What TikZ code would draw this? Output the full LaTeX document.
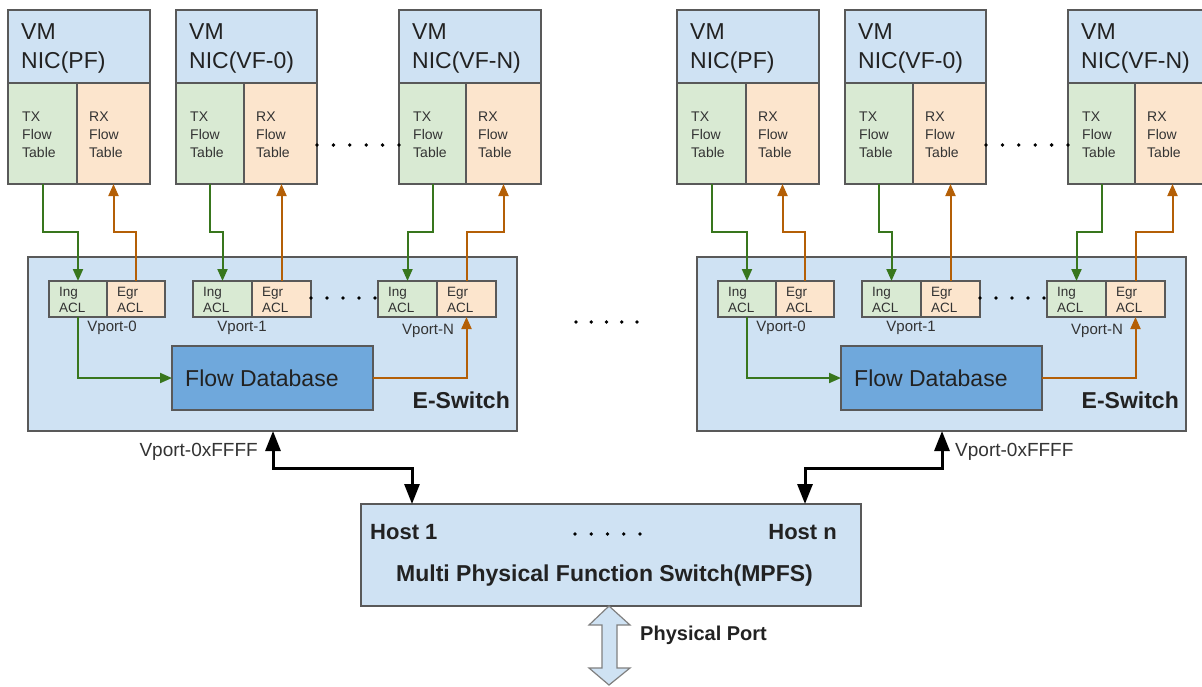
\documentclass[tikz,border=0pt]{standalone}
\usepackage{fontspec}
\setmainfont{Liberation Sans}
\usetikzlibrary{arrows.meta,calc}
\definecolor{hdrblue}{HTML}{CFE2F3}
\definecolor{txgreen}{HTML}{D9EAD3}
\definecolor{rxorange}{HTML}{FCE5CD}
\definecolor{dbblue}{HTML}{6FA8DC}
\definecolor{bordergray}{HTML}{595959}
\definecolor{arrgreen}{HTML}{38761D}
\definecolor{arrorange}{HTML}{B45F06}
\definecolor{txtgray}{HTML}{333333}
\definecolor{txtdark}{HTML}{222222}

\tikzset{
 box/.style={draw=bordergray, line width=1.5pt, inner sep=0pt, outer sep=0pt},
 hdrbox/.style={box, fill=hdrblue},
 txbox/.style={box, fill=txgreen},
 rxbox/.style={box, fill=rxorange},
 hdrtxt/.style={inner sep=0pt, align=left, text=txtdark, font=\fontsize{23}{29}\selectfont},
 smalltxt/.style={inner sep=0pt, align=left, text=txtgray, font=\fontsize{14}{18}\selectfont},
 acltxt/.style={inner sep=0pt, align=left, text=txtgray, font=\fontsize{13.5}{16}\selectfont},
 vporttxt/.style={inner sep=0pt, text=txtgray, font=\fontsize{15}{18}\selectfont},
 bigtxt/.style={inner sep=0pt, text=txtdark, font=\fontsize{23}{28}\selectfont},
 boldtxt/.style={inner sep=0pt, text=txtdark, font=\fontsize{#1}{#1}\selectfont\bfseries},
 garrow/.style={draw=arrgreen, line width=2pt, -{Triangle[width=10pt,length=12pt]}},
 oarrow/.style={draw=arrorange, line width=2pt, -{Triangle[width=10pt,length=12pt]}},
 barrow/.style={draw=black, line width=3pt, {Triangle[width=15pt,length=20pt]}-{Triangle[width=15pt,length=20pt]}},
 dotrow/.style={draw=black, line width=3.8pt, line cap=round, dash pattern=on 0pt off #1},
}

% prefix, x1, split, x2, label
\newcommand\nicbox[5]{%
 \node[hdrbox, minimum width={(#4-#2)*1pt}, minimum height=73pt] (#1h) at ({(#2+#4)/2},46.5) {};
 \node[hdrtxt, anchor=west] (#1hl) at ({#2+13},48) {VM\\#5};
 \node[txbox, minimum width={(#3-#2)*1pt}, minimum height=101pt] (#1tx) at ({(#2+#3)/2},133.5) {};
 \node[smalltxt, anchor=west] (#1txl) at ({#2+14},135) {TX\\Flow\\Table};
 \node[rxbox, minimum width={(#4-#3)*1pt}, minimum height=101pt] (#1rx) at ({(#3+#4)/2},133.5) {};
 \node[smalltxt, anchor=west] (#1rxl) at ({#3+12},135) {RX\\Flow\\Table};
}
% prefix, x1, split, x2, label, lx, ly
\newcommand\aclbox[7]{%
 \node[txbox, minimum width={(#3-#2)*1pt}, minimum height=36pt] (#1i) at ({(#2+#3)/2},299) {};
 \node[acltxt, anchor=west] (#1il) at ({#2+10},300) {Ing\\ACL};
 \node[rxbox, minimum width={(#4-#3)*1pt}, minimum height=36pt] (#1e) at ({(#3+#4)/2},299) {};
 \node[acltxt, anchor=west] (#1el) at ({#3+10},300) {Egr\\ACL};
 \node[vporttxt] (#1v) at (#6,#7) {#5};
}
\newcommand\nicgroup[1]{%
 \nicbox{#1a}{8}{77}{150}{NIC(PF)}
 \nicbox{#1b}{176}{244}{317}{NIC(VF-0)}
 \nicbox{#1c}{399}{466}{541}{NIC(VF-N)}
 \draw[dotrow=16.4pt] (#1brx.east |- 0,145) -- (#1ctx.west |- 0,145);
 \node[box, fill=hdrblue, minimum width=489pt, minimum height=174pt] (#1sw) at (272.5,344) {};
 \aclbox{#1p}{49}{107}{165}{Vport-0}{112}{328}
 \aclbox{#1q}{193}{252}{311}{Vport-1}{242}{328}
 \aclbox{#1r}{378}{437}{496}{Vport-N}{428}{331}
 \draw[dotrow=16pt] (#1qe.east |- 0,298) -- (#1ri.west |- 0,298);
 \node[box, fill=dbblue, minimum width=201pt, minimum height=64pt] (#1db) at (272.5,378) {};
 \node[bigtxt, anchor=west] (#1dbl) at (185,378) {Flow Database};
 \node[boldtxt=23, anchor=east] (#1swl) at (510,400) {E-Switch};
 \draw[garrow] (#1atx.south) -- (#1atx.south |- 0,232) -| (#1pi.north);
 \draw[oarrow] (#1pe.north) -- (#1pe.north |- 0,232) -| (#1arx.south);
 \draw[garrow] (#1btx.south) -- (#1btx.south |- 0,232) -| (#1qi.north);
 \draw[oarrow] (#1qe.north) -- (#1qe.north |- #1brx.south);
 \draw[garrow] (#1ctx.south) -- (#1ctx.south |- 0,232) -| (#1ri.north);
 \draw[oarrow] (#1re.north) -- (#1re.north |- 0,232) -| (#1crx.south);
 \draw[garrow] (#1pi.south) |- (#1db.west);
 \draw[oarrow] (#1db.east) -| (#1re.south);
}

\begin{document}
\begin{tikzpicture}[x=1pt, y=-1pt]
\useasboundingbox (0,0) rectangle (1202,686);

\nicgroup{L}
\begin{scope}[xshift=669pt]
\nicgroup{R}
\end{scope}

% middle dots
\draw[dotrow=15.25pt] (576,322) -- (637,322);

% host box
\node[box, fill=hdrblue, minimum width=500pt, minimum height=102pt] (host) at (611,555) {};
\node[boldtxt=22, anchor=west] (h1) at (370,532) {Host 1};
\node[boldtxt=22, anchor=east] (hn) at (837,532) {Host n};
\draw[dotrow=16.25pt] (575,534) -- (640,534);
\node[boldtxt=23] (mpfs) at (604.5,576) {Multi Physical Function Switch(MPFS)};

% e-switch to host connectors
\draw[barrow] (Lsw.south -| 273,0) |- (412,468) -- (host.north -| 412,0);
\draw[barrow] (Rsw.south -| 942,0) |- (805,468) -- (host.north -| 805,0);
\node[vporttxt, font=\fontsize{19}{22}\selectfont, anchor=east] (vxl) at (258,452) {Vport-0xFFFF};
\node[vporttxt, font=\fontsize{19}{22}\selectfont, anchor=west] (vxr) at (955,452) {Vport-0xFFFF};

% physical port
\coordinate (pp) at (host.south -| 609,0);
\draw[draw=gray, line width=1.2pt, fill=hdrblue, line join=miter]
  (pp) -- ++(-20,19) -- ++(13,0) -- ++(0,43) -- ++(-13,0) -- ++(20,17)
  -- ++(21,-17) -- ++(-13,0) -- ++(0,-43) -- ++(13,0) -- cycle;
\node[boldtxt=20, anchor=west] (ppl) at (640,635) {Physical Port};
\end{tikzpicture}
\end{document}
